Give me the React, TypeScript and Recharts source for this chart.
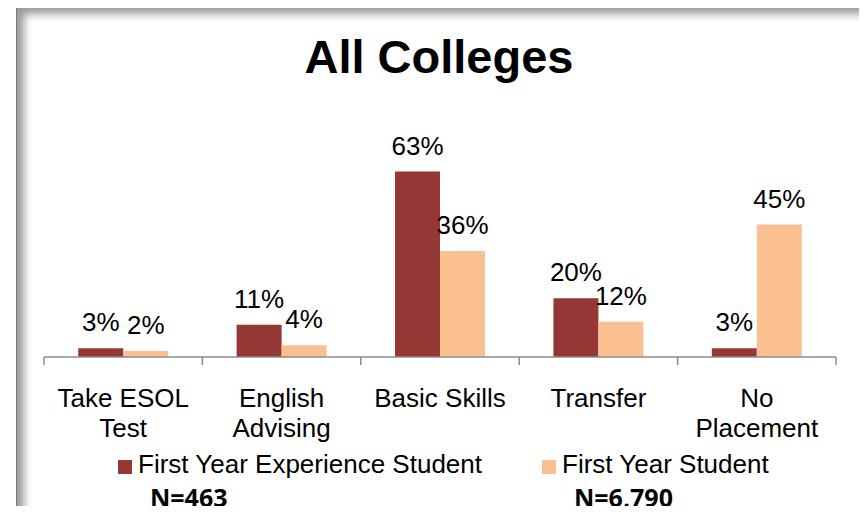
import React from 'react';
import { BarChart, Bar, XAxis, YAxis, LabelList } from 'recharts';

const categories = ['Take ESOL Test', 'English Advising', 'Basic Skills', 'Transfer', 'No Placement'];
const tickLabels = [['Take ESOL', 'Test'], ['English', 'Advising'], ['Basic Skills'], ['Transfer'], ['No', 'Placement']];
const firstYearExperience = [3, 11, 63, 20, 3];
const firstYearStudent = [2, 4, 36, 12, 45];

const seriesNames = ['First Year Experience Student', 'First Year Student'];
const seriesColors = ['#953735', '#FAC090'];
const seriesNotes = ['N=463', 'N=6,790'];

const data = categories.map((name, i) => ({
  name,
  fye: firstYearExperience[i],
  fys: firstYearStudent[i],
}));

const FONT = '"Liberation Sans", Arial, sans-serif';
const W = 867;
const H = 514;
const MARGIN = { top: 151, right: 31, bottom: 0, left: 44 };

const CategoryTick = (props: any) => {
  const { x, y, payload, index } = props;
  const half = payload.offset ?? (W - MARGIN.left - MARGIN.right) / categories.length / 2;
  const lines = tickLabels[index] || [payload.value];
  return (
    <g>
      <line x1={x - half} x2={x - half} y1={y} y2={y + 8} stroke="#8c8c8c" strokeWidth={1.5} />
      {index === categories.length - 1 && (
        <line x1={x + half} x2={x + half} y1={y} y2={y + 8} stroke="#8c8c8c" strokeWidth={1.5} />
      )}
      {lines.map((l: string, i: number) => (
        <text key={i} x={x} y={y + 50 + i * 30} textAnchor="middle" fill="#000" fontSize={26} fontFamily={FONT}>
          {l}
        </text>
      ))}
    </g>
  );
};

export default function App() {
  return (
    <div style={{ position: 'relative', width: W, height: H, margin: -8, overflow: 'hidden', background: '#fff' }}>
      <div
        style={{
          position: 'absolute',
          left: 16,
          top: 6,
          width: 845,
          height: 600,
          borderLeft: '1px solid #7a7a7a',
          borderTop: '1px solid #7a7a7a',
          borderRight: '1px solid #dcdcdc',
          boxShadow: 'inset 7px 7px 8px rgba(0,0,0,0.4)',
        }}
      />
      <div
        style={{
          position: 'absolute',
          left: 16,
          width: 846,
          top: 33,
          textAlign: 'center',
          fontFamily: FONT,
          fontWeight: 'bold',
          fontSize: 47,
          lineHeight: '47px',
          color: '#000',
        }}
      >
        All Colleges
      </div>
      <div style={{ position: 'absolute', left: 0, top: 0 }}>
        <BarChart width={W} height={H} data={data} margin={MARGIN} barCategoryGap="21.6%" barGap={0}>
          <XAxis
            dataKey="name"
            height={H - 357}
            axisLine={{ stroke: '#8c8c8c', strokeWidth: 1.5 }}
            tickLine={false}
            tickSize={0}
            tickMargin={0}
            interval={0}
            tick={<CategoryTick />}
          />
          <YAxis hide domain={[0, 70]} />
          <Bar dataKey="fye" fill={seriesColors[0]} isAnimationActive={false}>
            <LabelList dataKey="fye" position="top" offset={17} formatter={(v: any) => `${v}%`} fill="#000" fontSize={26} fontFamily={FONT} />
          </Bar>
          <Bar dataKey="fys" fill={seriesColors[1]} isAnimationActive={false}>
            <LabelList dataKey="fys" position="top" offset={17} formatter={(v: any) => `${v}%`} fill="#000" fontSize={26} fontFamily={FONT} />
          </Bar>
        </BarChart>
      </div>
      {seriesNames.map((name, i) => (
        <div key={name} style={{ position: 'absolute', left: i === 0 ? 118 : 542, top: 449, width: 400 }}>
          <div style={{ position: 'absolute', left: 0, top: 11, width: 14, height: 14, background: seriesColors[i] }} />
          <div style={{ position: 'absolute', left: 20, top: 0, fontFamily: FONT, fontSize: 26, lineHeight: '30px', color: '#000', whiteSpace: 'nowrap' }}>
            {name}
          </div>
          <div
            style={{
              position: 'absolute',
              left: 32,
              top: 33,
              fontFamily: '"Open Sans", sans-serif',
              fontWeight: 'bold',
              fontSize: 25,
              lineHeight: '30px',
              color: '#000',
              whiteSpace: 'nowrap',
            }}
          >
            {seriesNotes[i]}
          </div>
        </div>
      ))}
    </div>
  );
}
